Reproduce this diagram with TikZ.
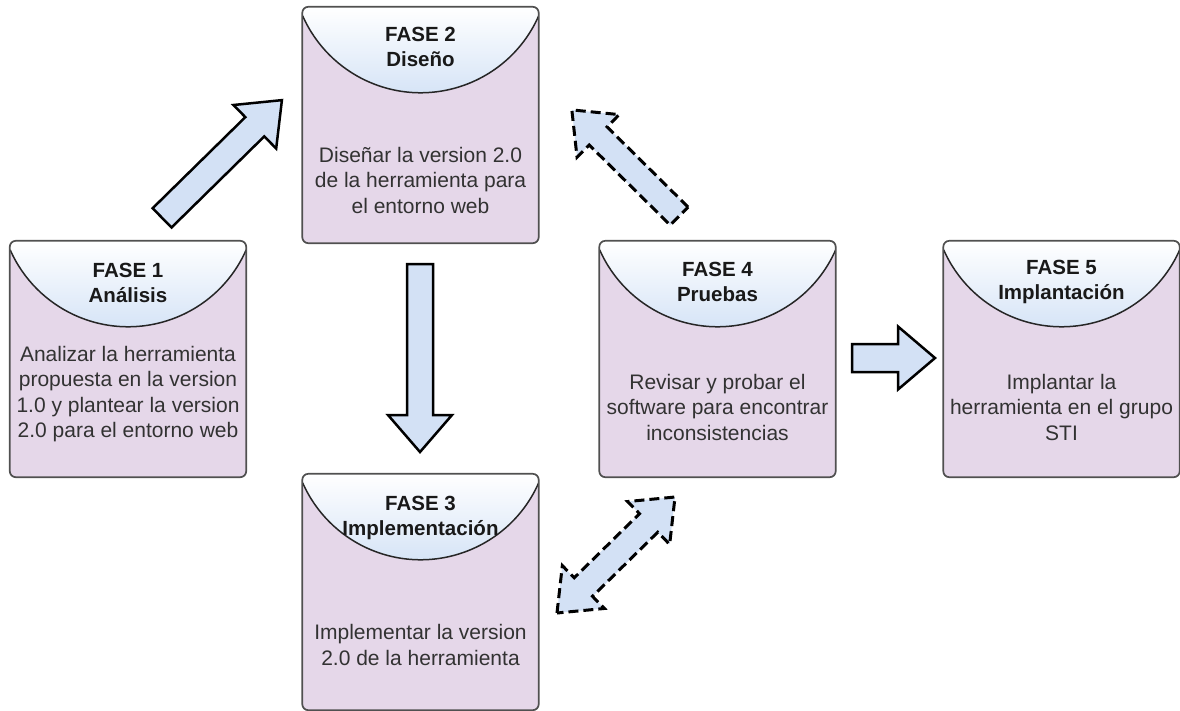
\documentclass[tikz,border=0pt]{standalone}
\usepackage{fontspec}
\setmainfont{Liberation Sans}
\usetikzlibrary{positioning,calc}

\definecolor{boxfill}{RGB}{229,215,233}
\definecolor{hdrblue}{RGB}{206,223,245}
\definecolor{arrowfill}{RGB}{211,225,245}
\definecolor{boxline}{RGB}{80,80,80}
\definecolor{txtgray}{RGB}{50,50,50}

\tikzset{
  phase/.style={rectangle, minimum width=236pt, minimum height=236pt, inner sep=0pt},
  phasetitle/.style={font=\bfseries\fontsize{20.5}{25}\selectfont, text=black!90, align=center},
  phasetext/.style={font=\fontsize{21}{25.5}\selectfont, text=txtgray, align=center},
  hdrline/.style={line width=1.5pt, black!85},
  boxborder/.style={boxline, line width=1.7pt, rounded corners=6pt},
  blockarrow/.style={draw=black, line width=2.5pt, fill=arrowfill, line join=miter},
  dasharrow/.style={blockarrow, line width=3pt, dash pattern=on 10pt off 5pt}
}

\begin{document}
\begin{tikzpicture}[x=1pt,y=1pt]
\useasboundingbox (0,0) rectangle (1180,-710);

% phases
	\node[phase] (b1) at (128,-359) {};
	\begin{scope}
		\clip[rounded corners=6pt] (b1.south west) rectangle (b1.north east);
		\fill[boxfill] (b1.south west) rectangle (b1.north east);
		\shade[top color=white,bottom color=hdrblue] (b1.north west) -- (b1.north east) -- ([yshift=-9pt]b1.north east) arc[start angle=-23.8,end angle=-156.2,radius=129pt] -- cycle;
		\draw[hdrline] ([yshift=-9pt]b1.north east) arc[start angle=-23.8,end angle=-156.2,radius=129pt];
	\end{scope}
	\draw[boxborder] (b1.south west) rectangle (b1.north east);
	\node[phasetitle] (t1) at ([yshift=-42pt]b1.north) {FASE 1\\Análisis};
	\node[phasetext] (d1) at ([yshift=-35pt]b1.center) {Analizar la herramienta\\propuesta en la version\\1.0 y plantear la version\\2.0 para el entorno web};


	\node[phase] (b2) at (420.5,-125) {};
	\begin{scope}
		\clip[rounded corners=6pt] (b2.south west) rectangle (b2.north east);
		\fill[boxfill] (b2.south west) rectangle (b2.north east);
		\shade[top color=white,bottom color=hdrblue] (b2.north west) -- (b2.north east) -- ([yshift=-9pt]b2.north east) arc[start angle=-23.8,end angle=-156.2,radius=129pt] -- cycle;
		\draw[hdrline] ([yshift=-9pt]b2.north east) arc[start angle=-23.8,end angle=-156.2,radius=129pt];
	\end{scope}
	\draw[boxborder] (b2.south west) rectangle (b2.north east);
	\node[phasetitle] (t2) at ([yshift=-40pt]b2.north) {FASE 2\\Diseño};
	\node[phasetext] (d2) at ([yshift=-55pt]b2.center) {Diseñar la version 2.0\\de la herramienta para\\el entorno web};


	\node[phase] (b3) at (420.5,-592) {};
	\begin{scope}
		\clip[rounded corners=6pt] (b3.south west) rectangle (b3.north east);
		\fill[boxfill] (b3.south west) rectangle (b3.north east);
		\shade[top color=white,bottom color=hdrblue] (b3.north west) -- (b3.north east) -- ([yshift=-9pt]b3.north east) arc[start angle=-23.8,end angle=-156.2,radius=129pt] -- cycle;
		\draw[hdrline] ([yshift=-9pt]b3.north east) arc[start angle=-23.8,end angle=-156.2,radius=129pt];
	\end{scope}
	\draw[boxborder] (b3.south west) rectangle (b3.north east);
	\node[phasetitle] (t3) at ([yshift=-44pt]b3.north) {FASE 3\\Implementación};
	\node[phasetext] (d3) at ([yshift=-53pt]b3.center) {Implementar la version\\2.0 de la herramienta};


	\node[phase] (b4) at (717.5,-359) {};
	\begin{scope}
		\clip[rounded corners=6pt] (b4.south west) rectangle (b4.north east);
		\fill[boxfill] (b4.south west) rectangle (b4.north east);
		\shade[top color=white,bottom color=hdrblue] (b4.north west) -- (b4.north east) -- ([yshift=-9pt]b4.north east) arc[start angle=-23.8,end angle=-156.2,radius=129pt] -- cycle;
		\draw[hdrline] ([yshift=-9pt]b4.north east) arc[start angle=-23.8,end angle=-156.2,radius=129pt];
	\end{scope}
	\draw[boxborder] (b4.south west) rectangle (b4.north east);
	\node[phasetitle] (t4) at ([yshift=-41pt]b4.north) {FASE 4\\Pruebas};
	\node[phasetext] (d4) at ([yshift=-48pt]b4.center) {Revisar y probar el\\software para encontrar\\inconsistencias};


	\node[phase] (b5) at (1061.5,-359) {};
	\begin{scope}
		\clip[rounded corners=6pt] (b5.south west) rectangle (b5.north east);
		\fill[boxfill] (b5.south west) rectangle (b5.north east);
		\shade[top color=white,bottom color=hdrblue] (b5.north west) -- (b5.north east) -- ([yshift=-9pt]b5.north east) arc[start angle=-23.8,end angle=-156.2,radius=129pt] -- cycle;
		\draw[hdrline] ([yshift=-9pt]b5.north east) arc[start angle=-23.8,end angle=-156.2,radius=129pt];
	\end{scope}
	\draw[boxborder] (b5.south west) rectangle (b5.north east);
	\node[phasetitle] (t5) at ([yshift=-41pt]b5.north) {FASE 5\\Implantación};
	\node[phasetext] (d5) at ([yshift=-48pt]b5.center) {Implantar la\\herramienta en el grupo\\STI};

	%Arrows
	% fase 1 to fase 2
	\coordinate (a12) at (222,-159);
	\begin{scope}[shift={(a12)},rotate=44.5]
		\draw[blockarrow] (-84,-13.5) -- (46,-13.5) -- (46,-30.5) -- (84,0) -- (46,30.5) -- (46,13.5) -- (-84,13.5) -- cycle;
	\end{scope}

	% fase 2 to fase 3
	\coordinate (a23) at (420,-358);
	\begin{scope}[shift={(a23)},rotate=-90]
		\draw[blockarrow] (-94,-13) -- (57,-13) -- (57,-32) -- (94,0) -- (57,32) -- (57,13) -- (-94,13) -- cycle;
	\end{scope}

	% fase 3 <-> fase 4
	\coordinate (a34) at (616,-555);
	\begin{scope}[shift={(a34)},rotate=44.5]
		\draw[dasharrow] (-82.75,0) -- (-45.75,30) -- (-45.75,13) -- (45.75,13) -- (45.75,30) -- (82.75,0) -- (45.75,-30) -- (45.75,-13) -- (-45.75,-13) -- (-45.75,-30) -- cycle;
	\end{scope}

	% fase 4 back to fase 2
	\coordinate (a42) at (625.5,-163);
	\begin{scope}[shift={(a42)},rotate=135.3]
		\draw[dasharrow] (-75.5,-12.7) -- (38.5,-12.7) -- (38.5,-30) -- (75.5,0) -- (38.5,30) -- (38.5,12.7) -- (-75.5,12.7) -- cycle;
	\end{scope}

	% fase 4 to fase 5
	\coordinate (a45) at (893.5,-358);
	\begin{scope}[shift={(a45)}]
		\draw[blockarrow] (-41.5,-14) -- (4.5,-14) -- (4.5,-31.5) -- (41.5,0) -- (4.5,31.5) -- (4.5,14) -- (-41.5,14) -- cycle;
	\end{scope}
\end{tikzpicture}
\end{document}
